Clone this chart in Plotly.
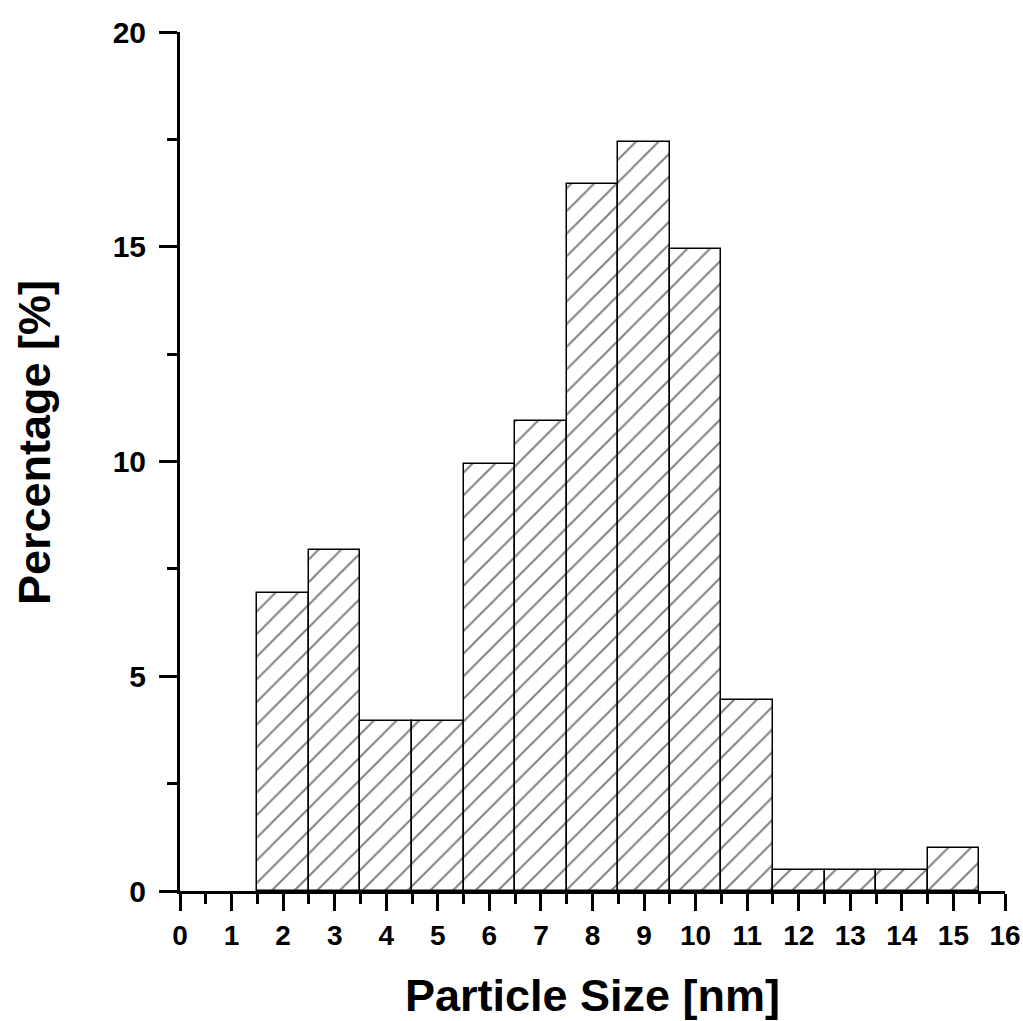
import plotly.graph_objects as go

sizes_nm = [2, 3, 4, 5, 6, 7, 8, 9, 10, 11, 12, 13, 14, 15]
percentage = [6.95, 7.95, 3.95, 3.95, 9.95, 10.95, 16.45, 17.45, 14.95, 4.45, 0.5, 0.5, 0.5, 1.0]
x_ticks = list(range(0, 17))
y_ticks = [0, 5, 10, 15, 20]

FONT = "Liberation Sans, Arial, sans-serif"

fig = go.Figure()
fig.add_trace(go.Bar(
    x=sizes_nm,
    y=percentage,
    width=1,
    marker=dict(
        color="white",
        line=dict(color="black", width=1.5),
        pattern=dict(shape="/", fgcolor="black", bgcolor="white", size=16, solidity=0.12),
    ),
    showlegend=False,
))

fig.update_layout(
    width=1023, height=1021,
    margin=dict(l=180, r=18, t=32, b=130),
    plot_bgcolor="white", paper_bgcolor="white",
    bargap=0,
    font=dict(family=FONT, color="black"),
)

fig.update_xaxes(
    range=[0, 16],
    tickvals=x_ticks,
    ticktext=[str(v) for v in x_ticks],
    ticks="outside", ticklen=17, tickwidth=3, tickcolor="black",
    minor=dict(ticks="outside", ticklen=10, tickwidth=3, tickcolor="black", dtick=0.5, tick0=0, showgrid=False),
    showline=True, linewidth=3, linecolor="black",
    showgrid=False, zeroline=False, automargin=False,
    tickfont=dict(family=FONT, size=28, weight="bold"),
    title=dict(text="Particle Size [nm]", font=dict(family=FONT, size=45, weight="bold"), standoff=30),
)
fig.update_yaxes(
    range=[0, 20],
    tickvals=y_ticks,
    ticktext=[str(v) for v in y_ticks],
    ticks="outside", ticklen=18, tickwidth=3, tickcolor="black",
    minor=dict(ticks="outside", ticklen=10, tickwidth=3, tickcolor="black", dtick=2.5, tick0=0, showgrid=False),
    showline=True, linewidth=3, linecolor="black",
    showgrid=False, zeroline=False, automargin=False,
    ticklabelstandoff=7,
    tickfont=dict(family=FONT, size=30, weight="bold"),
)

fig.add_annotation(
    text="Percentage [%]",
    xref="paper", yref="paper",
    x=(34 - 180) / 825, y=(891 - 443) / 859,
    xanchor="center", yanchor="middle",
    textangle=-90, showarrow=False,
    font=dict(family=FONT, size=45, weight="bold", color="black"),
)

fig.write_html("out.html", config={"displayModeBar": False},
               post_script="document.body.style.margin='0px';")
